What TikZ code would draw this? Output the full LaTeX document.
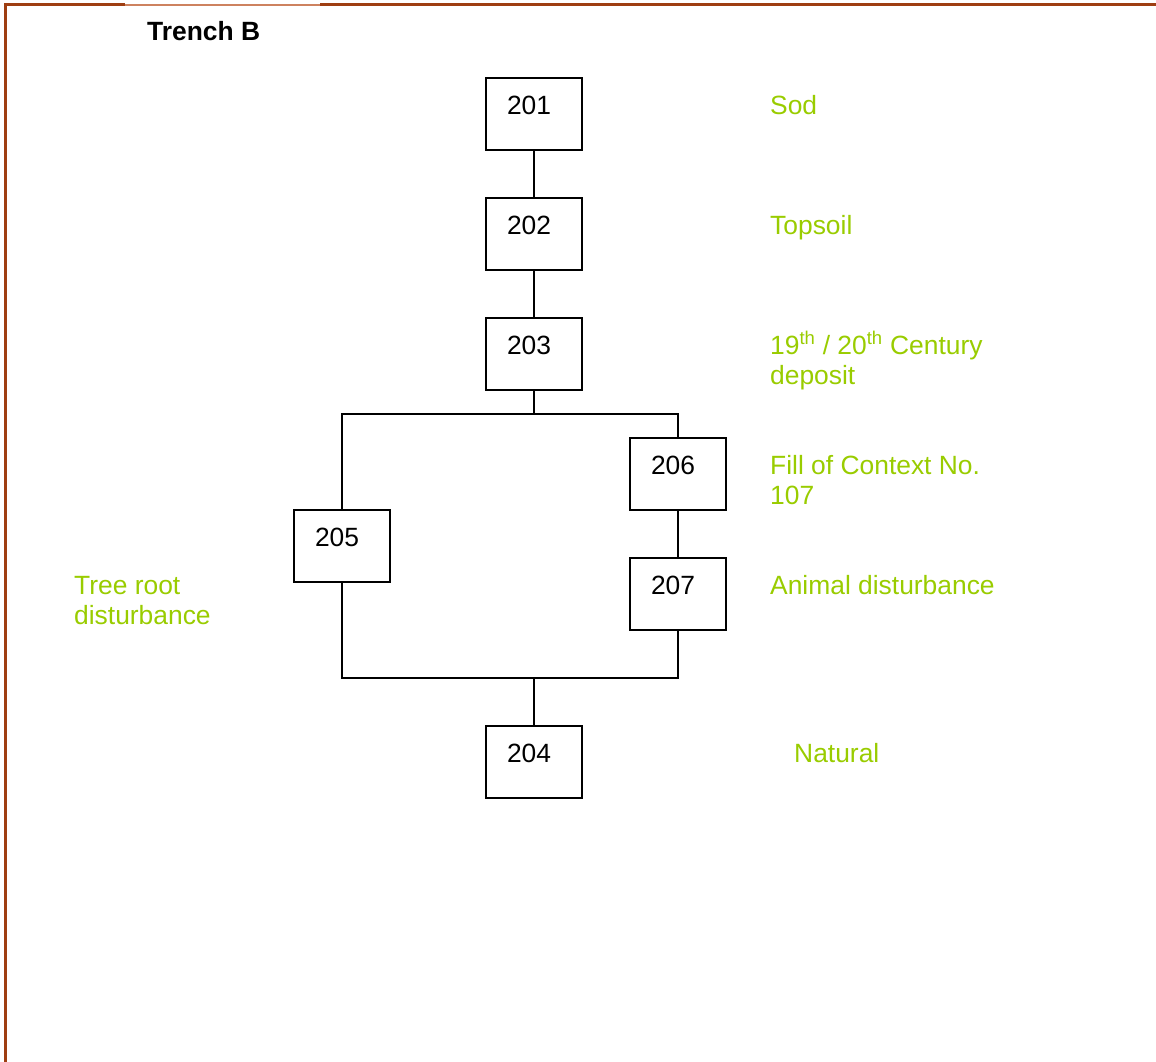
\documentclass[tikz,border=0pt]{standalone}
\usepackage{fontspec}
\setmainfont{Liberation Sans}
\definecolor{frameBrown}{RGB}{158,62,18}
\definecolor{frameLight}{RGB}{205,130,95}
\definecolor{noteGreen}{RGB}{153,204,0}
\begin{document}
\begin{tikzpicture}[x=1pt,y=-1pt,
	ctx/.style={shape=rectangle, draw=black, line width=1.6pt, minimum width=96pt, minimum height=72pt,
		text width=54pt, align=left, text height=19pt, text depth=19pt, inner sep=0pt,
		font=\fontsize{26.4}{30}\selectfont},
	note/.style={anchor=base west, inner sep=0pt, align=left, text=noteGreen,
		font=\fontsize{26.4}{30}\selectfont},
	link/.style={draw=black, line width=1.6pt}]
	\useasboundingbox (0,0) rectangle (1156,1062);
	% frame
	\draw[frameBrown, line width=3pt] (5,1062) -- (5,5) -- (125,5);
	\draw[frameLight, line width=1.5pt] (125,5) -- (320,5);
	\draw[frameBrown, line width=3pt] (320,5) -- (1156,5);
	\node[anchor=base west, inner sep=0pt, font=\fontsize{26.4}{30}\selectfont\bfseries] (title) at (147,41) {Trench B};
	% contexts
	\node at (534,114) [ctx] (c201) {201};
	\node at (534,234) [ctx] (c202) {202};
	\node at (534,354) [ctx] (c203) {203};
	\node at (678,474) [ctx] (c206) {206};
	\node at (342,546) [ctx] (c205) {205};
	\node at (678,594) [ctx] (c207) {207};
	\node at (534,762) [ctx] (c204) {204};
	\coordinate (split) at (534,414);
	\coordinate (join) at (534,678);
	% relations
	\draw[link] (c201) -- (c202);
	\draw[link] (c202) -- (c203);
	\draw[link] (c203.south) -- (split);
	\draw[link] (c205.north) |- (split) -| (c206.north);
	\draw[link] (c206) -- (c207);
	\draw[link] (c205.south) |- (join) -| (c207.south);
	\draw[link] (join) -- (c204.north);
	% descriptions (two-line ones sit on their last line)
	\node at (770,114) [note] (dSod) {Sod};
	\node at (770,234) [note] (dTop) {Topsoil};
	\node at (770,384) [note] (dDep) {19\textsuperscript{th} / 20\textsuperscript{th} Century\\deposit};
	\node at (770,504) [note] (dFill) {Fill of Context No.\\107};
	\node at (770,594) [note] (dAnim) {Animal disturbance};
	\node at (74,624) [note] (dTree) {Tree root\\disturbance};
	\node at (794,762) [note] (dNat) {Natural};
\end{tikzpicture}
\end{document}
